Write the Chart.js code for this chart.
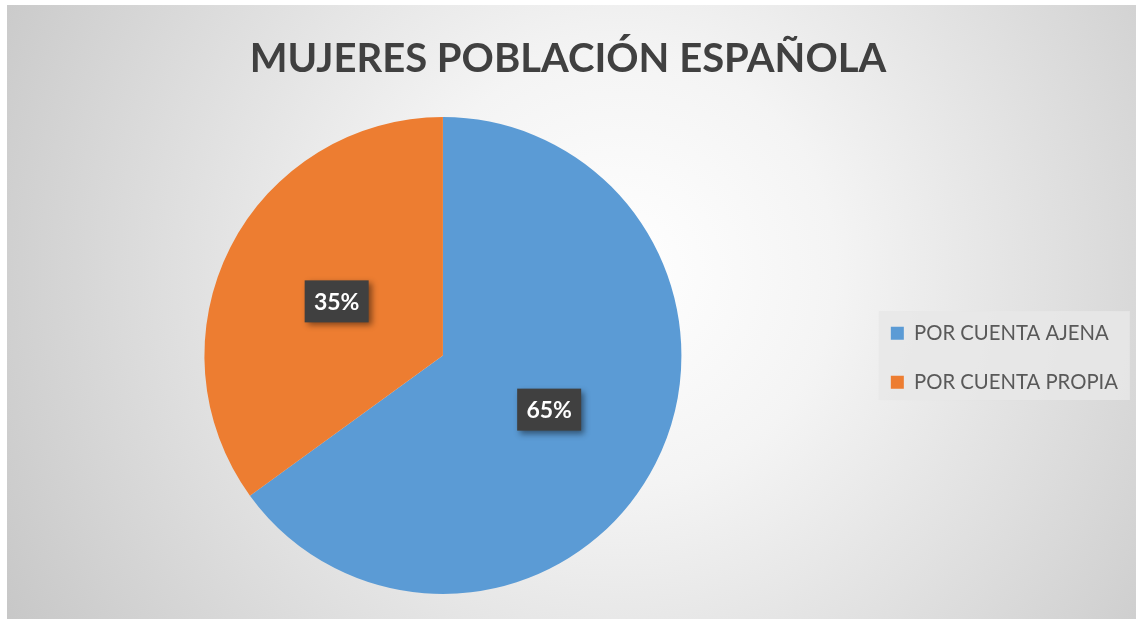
<!DOCTYPE html>
<html>
<head>
<meta charset="utf-8">
<script src="https://cdn.jsdelivr.net/npm/chart.js@4"></script>
<style>
  html, body { margin: 0; padding: 0; background: #fff; }
  #wrap { width: 1136px; height: 619px; }
</style>
</head>
<body>
<div id="wrap"><canvas id="pie"></canvas></div>
<script>
// datos
var categorias = ["POR CUENTA AJENA", "POR CUENTA PROPIA"];
var porcentajes = [65, 35];
var colores = ["#5B9BD5", "#ED7D31"];
var titulo = "MUJERES POBLACIÓN ESPAÑOLA";

// fondo con degradado radial (estilo excel) y caja de la leyenda
var fondo = {
  id: "fondo",
  beforeDraw: function(chart) {
    var ctx = chart.ctx;
    var w = chart.width, h = chart.height;
    ctx.save();
    ctx.fillStyle = "#ffffff";
    ctx.fillRect(0, 0, w, h);
    var g = ctx.createRadialGradient(620, 270, 0, 620, 270, 720);
    g.addColorStop(0, "#ffffff");
    g.addColorStop(0.3, "#f4f4f4");
    g.addColorStop(1, "#c6c6c6");
    ctx.fillStyle = g;
    ctx.fillRect(7, 5, w - 7, h - 5);

    var l = chart.legend;
    if (l && l.legendHitBoxes.length) {
      var first = l.legendHitBoxes[0];
      ctx.fillStyle = "rgba(232,232,232,0.85)";
      ctx.fillRect(first.left - 12, first.top - 12, 251, 89);
    }
    ctx.restore();
  }
};

// etiquetas de datos con caja oscura
var etiquetas = {
  id: "etiquetas",
  afterDatasetsDraw: function(chart) {
    var ctx = chart.ctx;
    var meta = chart.getDatasetMeta(0);
    ctx.save();
    meta.data.forEach(function(arc, i) {
      var p = arc.tooltipPosition();
      var bw = 64, bh = 42;
      ctx.shadowColor = "rgba(0,0,0,0.45)";
      ctx.shadowBlur = 6;
      ctx.shadowOffsetX = 3;
      ctx.shadowOffsetY = 3;
      ctx.fillStyle = "#404040";
      ctx.fillRect(p.x - bw / 2, p.y - bh / 2, bw, bh);
      ctx.shadowColor = "transparent";
      ctx.fillStyle = "#ffffff";
      ctx.font = "bold 23px Lato";
      ctx.textAlign = "center";
      ctx.textBaseline = "middle";
      ctx.fillText(porcentajes[i] + "%", p.x, p.y + 1);
    });
    ctx.restore();
  }
};

var chart = new Chart(document.getElementById("pie").getContext("2d"), {
  type: "pie",
  data: {
    labels: categorias,
    datasets: [{
      data: porcentajes,
      backgroundColor: colores,
      borderWidth: 0
    }]
  },
  options: {
    responsive: true,
    maintainAspectRatio: false,
    animation: false,
    layout: { padding: { left: 8, right: 8, bottom: 25 } },
    plugins: {
      title: {
        display: true,
        text: titulo,
        color: "#404040",
        font: { family: "Lato", size: 40, weight: "bold", lineHeight: 1.2 },
        padding: { top: 35, bottom: 34 }
      },
      legend: {
        position: "right",
        fullSize: false,
        title: { display: true, text: "", font: { size: 10, lineHeight: 1 }, padding: 5 },
        labels: {
          boxWidth: 13,
          boxHeight: 13,
          padding: 13,
          color: "#595959",
          font: { family: "Lato", size: 20.3, lineHeight: 1.77 },
          // texto como lista de una linea para que la fila use lineHeight
          generateLabels: function(chart) {
            var items = Chart.controllers.pie.overrides.plugins.legend.labels.generateLabels(chart);
            items.forEach(function(it) { it.text = [it.text]; });
            return items;
          }
        }
      },
      tooltip: { enabled: false }
    }
  },
  plugins: [fondo, etiquetas]
});
</script>
</body>
</html>
